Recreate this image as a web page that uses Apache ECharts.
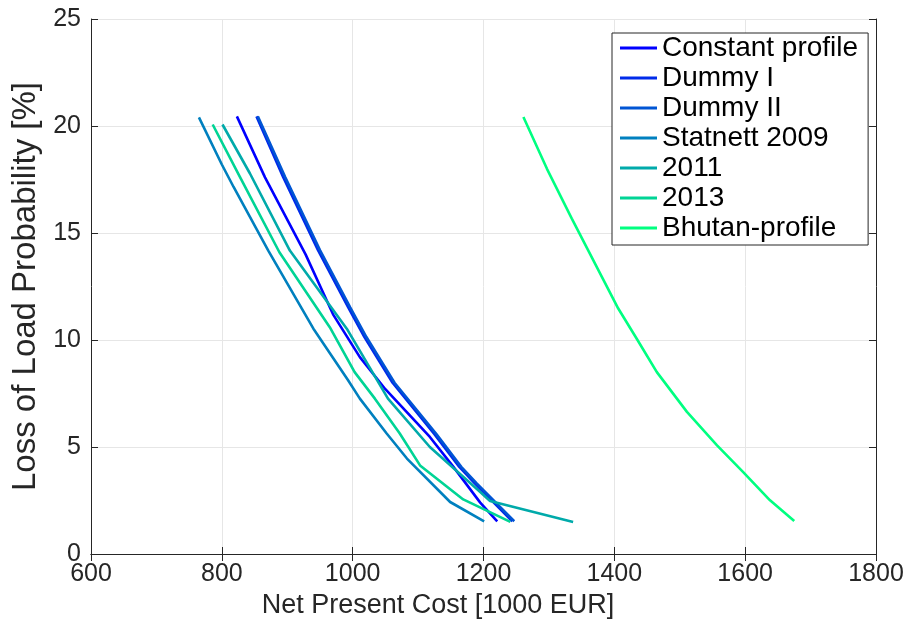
<!DOCTYPE html>
<html>
<head>
<meta charset="utf-8">
<script src="https://cdn.jsdelivr.net/npm/echarts@6/dist/echarts.min.js"></script>
<style>
  html, body { margin: 0; padding: 0; background: #fff; }
  #chart { width: 910px; height: 632px; }
</style>
</head>
<body>
<div id="chart"></div>
<script>
// profile names, in legend order
const profileNames = ['Constant profile', 'Dummy I', 'Dummy II', 'Statnett 2009', '2011', '2013', 'Bhutan-profile']
// winter colormap, 7 steps
const profileColors = ['#0000FF', '#002BEA', '#0055D4', '#0080BF', '#00AAAA', '#00D495', '#00FF80']

// [net present cost (1000 EUR), LOLP (%)]
const constantProfile = [[823, 20.45], [866, 17.6], [928, 14.0], [970, 11.2], [1011, 9.2], [1050, 7.7], [1118, 5.47], [1154, 4.07], [1195, 2.4], [1221, 1.53]]
const dummyOne = [[853, 20.45], [894, 17.6], [947, 14.2], [993, 11.54], [1018, 10.14], [1061, 8.0], [1125, 5.6], [1163, 4.07], [1187, 3.29], [1244, 1.53]]
const dummyTwo = [[855, 20.45], [897, 17.6], [950, 14.2], [996, 11.54], [1021, 10.14], [1064, 8.0], [1128, 5.6], [1166, 4.07], [1190, 3.29], [1247, 1.53]]
const statnett2009 = [[765, 20.4], [800, 18.2], [818, 17.15], [871, 14.18], [940, 10.53], [993, 8.12], [1011, 7.26], [1052, 5.63], [1083, 4.46], [1149, 2.43], [1201, 1.53]]
const year2011 = [[801, 20.07], [843, 17.78], [904, 14.18], [991, 10.53], [1054, 7.26], [1118, 5.0], [1195, 2.9], [1210, 2.48], [1337, 1.5]]
const year2013 = [[786, 20.07], [828, 17.6], [888, 14.1], [965, 10.6], [1003, 8.5], [1034, 7.26], [1072, 5.63], [1103, 4.14], [1169, 2.55], [1241, 1.5]]
const bhutanProfile = [[1261, 20.42], [1297, 18.0], [1335, 15.67], [1406, 11.47], [1434, 10.07], [1465, 8.5], [1511, 6.64], [1557, 5.08], [1597, 3.83], [1638, 2.51], [1675, 1.54]]

const profileData = [constantProfile, dummyOne, dummyTwo, statnett2009, year2011, year2013, bhutanProfile]

// axis ranges and tick steps
const costRange = [600, 1800, 200]
const lolpRange = [0, 25, 5]

const axisColor = '#262626'
const fontFamily = "'Liberation Sans', Arial, sans-serif"

var chart = echarts.init(document.getElementById('chart'), null, { renderer: 'canvas' })

function plain(v) {
  return String(v)
}

var option = {
  animation: false,
  color: profileColors,
  textStyle: { fontFamily: fontFamily },
  grid: {
    left: 91,
    right: 34,
    top: 19,
    bottom: 78,
    outerBoundsMode: 'none'
  },
  legend: {
    orient: 'vertical',
    left: 612,
    top: 33,
    icon: 'rect',
    itemWidth: 37,
    itemHeight: 3,
    itemGap: 2,
    padding: [1, 10, 3, 8],
    backgroundColor: '#fff',
    borderColor: axisColor,
    borderWidth: 1,
    textStyle: { fontSize: 28, color: '#000', fontFamily: fontFamily },
    data: profileNames
  },
  xAxis: [
    {
      type: 'value',
      position: 'bottom',
      min: costRange[0],
      max: costRange[1],
      interval: costRange[2],
      name: 'Net Present Cost [1000 EUR]',
      nameLocation: 'middle',
      nameGap: 33,
      // the title sits a bit left of the axis centre in the original
      nameTextStyle: { fontSize: 27, color: axisColor, padding: [0, 91, 0, 0] },
      axisLine: { lineStyle: { color: axisColor, width: 1 } },
      axisTick: { inside: true, length: 7, lineStyle: { color: axisColor } },
      axisLabel: { fontSize: 25, color: axisColor, margin: 8, formatter: plain },
      splitLine: { show: true, lineStyle: { color: '#e6e6e6', width: 1 } }
    },
    {
      type: 'value',
      position: 'top',
      min: costRange[0],
      max: costRange[1],
      interval: costRange[2],
      axisLine: { lineStyle: { color: axisColor, width: 1 } },
      axisTick: { inside: true, length: 7, lineStyle: { color: axisColor } },
      axisLabel: { show: false },
      splitLine: { show: false }
    }
  ],
  yAxis: [
    {
      type: 'value',
      position: 'left',
      min: lolpRange[0],
      max: lolpRange[1],
      interval: lolpRange[2],
      name: 'Loss of Load Probability [%]',
      nameLocation: 'middle',
      nameGap: 46,
      nameTextStyle: { fontSize: 33, color: axisColor },
      axisLine: { show: true, lineStyle: { color: axisColor, width: 1 } },
      axisTick: { show: true, inside: true, length: 7, lineStyle: { color: axisColor } },
      axisLabel: { fontSize: 25, color: axisColor, margin: 10, formatter: plain },
      splitLine: { show: true, lineStyle: { color: '#e6e6e6', width: 1 } }
    },
    {
      type: 'value',
      position: 'right',
      min: lolpRange[0],
      max: lolpRange[1],
      interval: lolpRange[2],
      axisLine: { show: true, lineStyle: { color: axisColor, width: 1 } },
      axisTick: { show: true, inside: true, length: 7, lineStyle: { color: axisColor } },
      axisLabel: { show: false },
      splitLine: { show: false }
    }
  ],
  series: profileNames.map(function (name, i) {
    return {
      name: name,
      type: 'line',
      xAxisIndex: 0,
      yAxisIndex: 0,
      showSymbol: false,
      symbol: 'none',
      lineStyle: { width: 2.6, color: profileColors[i] },
      itemStyle: { color: profileColors[i] },
      data: profileData[i]
    }
  })
}

chart.setOption(option)
</script>
</body>
</html>
